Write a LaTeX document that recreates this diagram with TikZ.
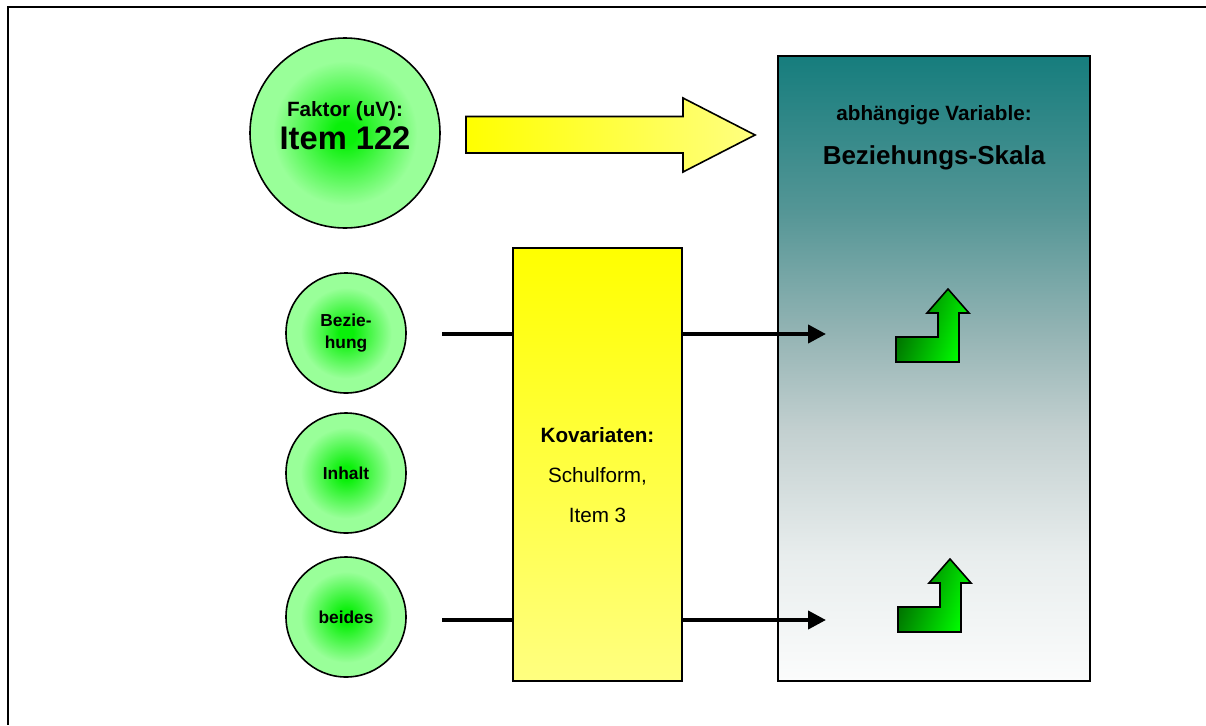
\documentclass[tikz,border=0pt]{standalone}
\usepackage{fontspec}
\setmainfont{Liberation Sans}
\usetikzlibrary{arrows.meta}

\definecolor{ballcore}{RGB}{10,240,10}
\definecolor{ballrim}{RGB}{153,255,153}
\definecolor{dvA}{RGB}{22,125,125}
\definecolor{dvB}{RGB}{85,150,150}
\definecolor{dvC}{RGB}{150,181,181}
\definecolor{dvD}{RGB}{195,208,208}
\definecolor{dvE}{RGB}{232,237,237}
\definecolor{dvF}{RGB}{251,252,252}
\definecolor{yellowA}{RGB}{255,255,0}
\definecolor{yellowB}{RGB}{255,255,128}
\definecolor{darkgreen}{RGB}{0,100,0}
\definecolor{brightgreen}{RGB}{0,255,0}

% radial fill of the green balls: the node border lies at 25bp
\pgfdeclareradialshading{greenball}{\pgfpoint{0bp}{0bp}}{%
  color(0bp)=(ballcore); color(3bp)=(ballcore);
  color(19bp)=(ballrim); color(50bp)=(ballrim)}

% teal-to-white fill of the dependent variable column (path spans 25bp..75bp)
\pgfdeclareverticalshading{depvar}{100bp}{%
  color(0bp)=(dvF); color(25bp)=(dvF); color(35bp)=(dvE);
  color(45bp)=(dvD); color(52.5bp)=(dvC); color(62.5bp)=(dvB);
  color(75bp)=(dvA); color(100bp)=(dvA)}

\tikzset{
  ball/.style={circle, draw=black, line width=1.2pt, shading=greenball,
    inner sep=0pt, align=center, font=\bfseries\fontsize{13}{16.5}\selectfont},
  bigball/.style={ball, minimum size=142.5pt},
  smallball/.style={ball, minimum size=90pt},
  label/.style={anchor=base, inner sep=0pt},
  path/.style={line width=3pt},
  tipped/.style={path, -{Triangle[length=13.5pt,width=13.5pt]}},
  upturn/.pic={
    \draw[line width=1.2pt, line join=miter, left color=darkgreen,
      right color=brightgreen, shading angle=70]
      (0,0) -- (0,-25) -- (42,-25) -- (42,-49) -- (31,-49) -- (52,-73)
      -- (73,-49) -- (63,-49) -- (63,0) -- cycle;
  }
}

\begin{document}
\begin{tikzpicture}[x=0.75pt, y=-0.75pt]
  \useasboundingbox (0,0) rectangle (1206,725);
  \fill[white] (0,0) rectangle (1206,725);

  % page frame (top and left edges)
  \draw[line width=1.5pt] (1206,7) -- (8,7) -- (8,725);

  % dependent variable column
  \node[draw=black, line width=1.2pt, minimum width=234pt, minimum height=468.75pt,
    shading=depvar, inner sep=0pt]
    (dv) at (934,368.5) {};
  \node[label, font=\bfseries\fontsize{15.5}{18}\selectfont] (dvhead) at (934,120) {abhängige Variable:};
  \node[label, font=\bfseries\fontsize{19.5}{22}\selectfont] (dvname) at (934,164) {Beziehungs-Skala};

  % covariates column
  \node[draw=black, line width=1.2pt, minimum width=126.75pt, minimum height=324.75pt,
    top color=yellowA, bottom color=yellowB, inner sep=0pt]
    (kov) at (597.5,464.5) {};
  \node[label, font=\bfseries\fontsize{15.5}{18}\selectfont] (kovhead) at (597.5,442) {Kovariaten:};
  \node[label, font=\fontsize{15.5}{18}\selectfont] (kov1) at (597.5,482) {Schulform,};
  \node[label, font=\fontsize{15.5}{18}\selectfont] (kov2) at (597.5,522) {Item 3};

  % factor
  \node[bigball] (factor) at (345,133) {};
  \node[label, font=\bfseries\fontsize{15.5}{18}\selectfont] (factorhead) at (345,116) {Faktor (uV):};
  \node[label, font=\bfseries\fontsize{24.5}{28}\selectfont] (factorname) at (345,149) {Item 122};

  % factor levels
  \node[smallball] (bez) at (346,333) {Bezie-\\hung};
  \node[smallball] (inh) at (346,473) {Inhalt};
  \node[smallball] (bei) at (346,617) {beides};

  % main effect arrow
  \draw[line width=1.2pt, left color=yellowA, right color=yellowB]
    (466,116.5) -- (683,116.5) -- (683,98) -- (755,135) -- (683,172)
    -- (683,153) -- (466,153) -- cycle;

  % paths through the covariates
  \coordinate (s1) at (442,334);
  \coordinate (e1) at (826,334);
  \coordinate (s2) at (442,620);
  \coordinate (e2) at (826,620);
  \draw[path] (s1) -- (s1 -| kov.west);
  \draw[tipped] (s1 -| kov.east) -- (e1);
  \draw[path] (s2) -- (s2 -| kov.west);
  \draw[tipped] (s2 -| kov.east) -- (e2);

  % increase markers
  \pic at (896,362) {upturn};
  \pic at (898,632) {upturn};
\end{tikzpicture}
\end{document}
